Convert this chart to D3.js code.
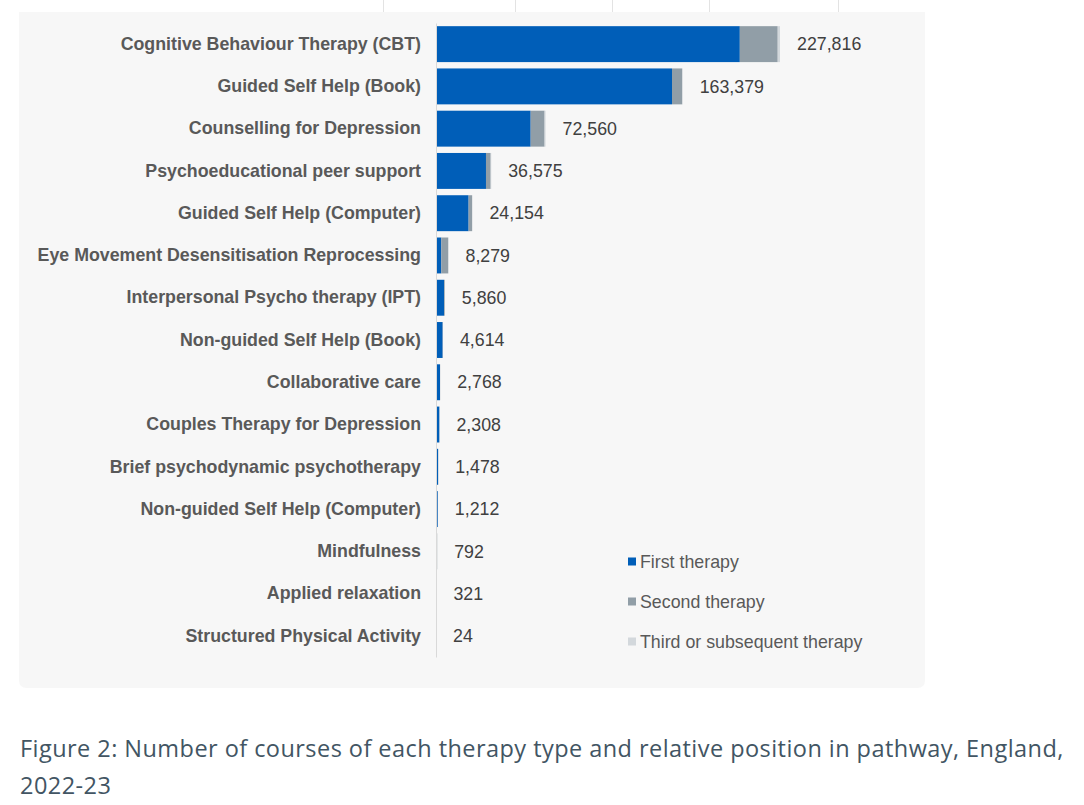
<!DOCTYPE html>
<html>
<head>
<meta charset="utf-8">
<script src="https://cdn.jsdelivr.net/npm/d3@7/dist/d3.min.js"></script>
<style>
  html, body { margin: 0; padding: 0; background: #ffffff; }
  svg { display: block; }
</style>
</head>
<body>
<svg id="chart" width="1084" height="805"></svg>
<script>
const categories = [
  "Cognitive Behaviour Therapy (CBT)",
  "Guided Self Help (Book)",
  "Counselling for Depression",
  "Psychoeducational peer support",
  "Guided Self Help (Computer)",
  "Eye Movement Desensitisation Reprocessing",
  "Interpersonal Psycho therapy (IPT)",
  "Non-guided Self Help (Book)",
  "Collaborative care",
  "Couples Therapy for Depression",
  "Brief psychodynamic psychotherapy",
  "Non-guided Self Help (Computer)",
  "Mindfulness",
  "Applied relaxation",
  "Structured Physical Activity"
];
const firstTherapy  = [201200, 156300, 62700, 33100, 21600, 3500, 5300, 4400, 2650, 2200, 1400, 1150, 500, 250, 20];
const secondTherapy = [25100, 6700, 9200, 3100, 2250, 4600, 500, 180, 100, 95, 70, 55, 280, 65, 4];
const thirdTherapy  = [1516, 379, 660, 375, 304, 179, 60, 34, 18, 13, 8, 7, 12, 6, 0];
const totalLabels   = [227816, 163379, 72560, 36575, 24154, 8279, 5860, 4614, 2768, 2308, 1478, 1212, 792, 321, 24];
const seriesNames   = ["First therapy", "Second therapy", "Third or subsequent therapy"];
const seriesColors  = ["#005EB8", "#919EA7", "#D3D8DC"];
const captionLines  = ["Figure 2: Number of courses of each therapy type and relative position in pathway, England,", "2022-23"];

const svg = d3.select("#chart");

// decorative lines of the table above (cropped)
[383.5, 515.5, 612.5, 709.5, 838.5].forEach(x => {
  svg.append("line").attr("x1", x).attr("x2", x).attr("y1", 0).attr("y2", 12)
    .attr("stroke", "#e3e3e3").attr("stroke-width", 1);
});

// panel with rounded bottom corners
const px0 = 19, px1 = 925, py0 = 12, py1 = 688, r = 8;
svg.append("path")
  .attr("d", `M${px0},${py0} H${px1} V${py1 - r} Q${px1},${py1} ${px1 - r},${py1} H${px0 + r} Q${px0},${py1} ${px0},${py1 - r} Z`)
  .attr("fill", "#f7f7f7");

const rows = categories.map((c, i) => ({
  cat: c, first: firstTherapy[i], second: secondTherapy[i], third: thirdTherapy[i], total: totalLabels[i]
}));

const stack = d3.stack().keys(["first", "second", "third"]);
const stacked = stack(rows);

const x = d3.scaleLinear().domain([0, 250000]).range([436, 813.5]);
const y = d3.scaleBand().domain(categories).range([23, 657]).paddingInner(0.15).paddingOuter(0.075);

const font = "'Liberation Sans', Arial, sans-serif";

// bars
svg.append("g").selectAll("g")
  .data(stacked)
  .join("g")
  .attr("fill", (d, i) => seriesColors[i])
  .selectAll("rect")
  .data(d => d)
  .join("rect")
  .attr("x", d => x(d[0]))
  .attr("y", d => y(d.data.cat))
  .attr("width", d => Math.max(0, x(d[1]) - x(d[0])))
  .attr("height", y.bandwidth());

// axis
const axis = svg.append("g")
  .attr("transform", `translate(${x(0)},0)`)
  .call(d3.axisLeft(y).tickSizeInner(0).tickSizeOuter(0).tickPadding(15));
axis.select(".domain").attr("stroke", "#d9d9d9").attr("stroke-width", 1);
axis.selectAll(".tick text")
  .attr("fill", "#595959")
  .style("font-family", font)
  .style("font-size", "17.8px")
  .style("font-weight", "bold");
axis.raise();

// value labels
svg.append("g").selectAll("text")
  .data(rows)
  .join("text")
  .attr("x", d => x(d.first + d.second + d.third) + 17)
  .attr("y", d => y(d.cat) + y.bandwidth() / 2)
  .attr("dy", "0.35em")
  .attr("fill", "#404040")
  .style("font-family", font)
  .style("font-size", "17.8px")
  .text(d => d3.format(",")(d.total));

// legend
const legend = svg.append("g").attr("transform", "translate(628,562)");
seriesNames.forEach((name, i) => {
  const g = legend.append("g").attr("transform", `translate(0,${i * 40})`);
  g.append("rect").attr("x", 0).attr("y", -4.5).attr("width", 8).attr("height", 8).attr("fill", seriesColors[i]);
  g.append("text").attr("x", 12).attr("y", 0).attr("dy", "0.35em")
    .attr("fill", "#595959")
    .style("font-family", font).style("font-size", "17.8px")
    .text(name);
});

// caption
svg.append("g").selectAll("text")
  .data(captionLines)
  .join("text")
  .attr("x", 20)
  .attr("y", (d, i) => 757 + i * 37)
  .attr("fill", "#425563")
  .style("font-family", "'Open Sans', 'Noto Sans', sans-serif")
  .style("font-size", "23.5px")
  .style("letter-spacing", "0.45px")
  .text(d => d);
</script>
</body>
</html>
